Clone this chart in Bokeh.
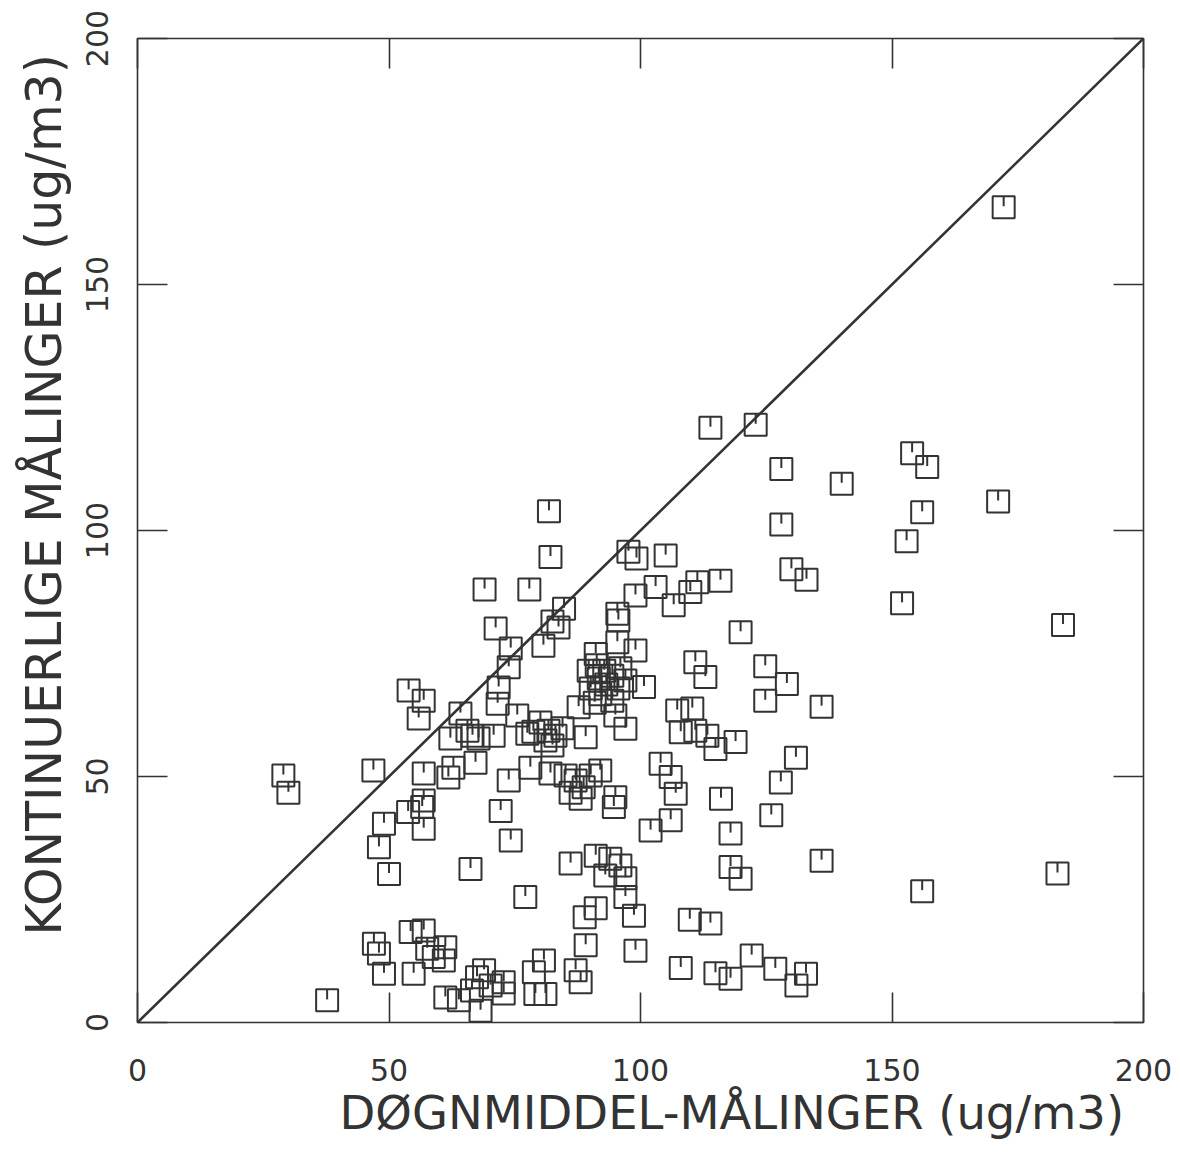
from bokeh.plotting import figure
from bokeh.models import Range1d, LinearAxis, FixedTicker, Slope, Title
from bokeh.embed import file_html
from bokeh.resources import INLINE

# Døgnmiddel-målinger (x) vs kontinuerlige målinger (y), ug/m3
dogn = [172.2, 113.9, 122.9, 154.0, 157.0, 128.0, 140.0, 171.1, 81.8, 156.0,
        128.0, 152.9, 97.6, 99.2, 82.1, 105.0, 130.0, 133.0, 111.3, 115.9,
        109.9, 103.0, 99.0, 69.0, 77.9, 152.0, 106.6, 84.8, 95.4, 95.6,
        184.0, 83.7, 82.5, 71.2, 119.9, 95.4, 80.7, 74.2, 99.0, 91.1,
        73.8, 110.9, 124.8, 112.9, 129.1, 100.7, 71.8, 53.9, 56.9, 124.8,
        136.0, 71.6, 87.7, 55.9, 64.2, 75.5, 95.0, 107.3, 110.3, 97.0,
        108.0, 110.9, 113.3, 114.9, 118.9, 65.6, 66.6, 67.8, 62.2, 70.8,
        77.5, 89.1, 80.1, 81.7, 83.1, 81.1, 84.5, 82.5, 78.7, 89.7,
        91.3, 92.8, 94.4, 91.7, 93.2, 90.1, 95.6, 92.0, 94.4, 96.0,
        90.9, 97.0, 92.0, 85.1, 87.1, 88.7, 86.1, 88.1, 90.1, 104.0,
        106.0, 107.0, 106.0, 102.0, 130.9, 127.9, 116.0, 95.0, 126.0, 117.9,
        117.9, 119.9, 136.0, 156.0, 182.9, 109.8, 113.9, 108.0, 114.9, 117.9,
        122.1, 126.8, 132.9, 131.0, 62.8, 67.2, 56.9, 61.8, 73.8, 78.1,
        82.1, 29.0, 30.0, 46.9, 56.9, 53.8, 72.2, 49.0, 56.9, 56.6,
        48.0, 50.0, 66.2, 74.2, 77.1, 86.1, 94.7, 91.1, 94.0, 96.0,
        93.0, 97.0, 97.0, 98.7, 88.9, 91.1, 89.1, 99.0, 37.7, 47.0,
        48.0, 49.0, 54.3, 56.9, 54.9, 57.6, 58.9, 61.2, 60.9, 61.2,
        63.9, 66.5, 67.5, 68.9, 70.2, 72.8, 68.2, 72.8, 78.8, 80.8,
        79.1, 81.1, 87.1, 88.1]

kont = [165.7, 120.9, 121.5, 115.7, 112.9, 112.5, 109.5, 105.9, 103.9, 103.7,
        101.2, 97.8, 95.7, 94.3, 94.6, 94.9, 92.1, 90.0, 89.5, 89.8,
        87.5, 88.5, 86.8, 88.0, 88.0, 85.2, 84.8, 84.1, 83.1, 81.7,
        80.8, 80.3, 81.5, 80.1, 79.3, 77.3, 76.6, 76.0, 75.6, 74.9,
        72.2, 73.2, 72.4, 70.2, 68.8, 68.2, 68.1, 67.5, 65.4, 65.4,
        64.2, 64.8, 64.1, 61.8, 62.8, 62.4, 62.4, 63.4, 63.8, 59.7,
        59.0, 59.3, 58.3, 55.6, 57.0, 59.3, 58.3, 57.7, 57.7, 58.3,
        58.7, 58.0, 61.0, 59.3, 58.3, 57.3, 59.8, 56.3, 59.1, 71.5,
        72.6, 71.5, 70.5, 69.9, 68.7, 67.9, 67.9, 66.7, 65.4, 72.0,
        65.0, 69.5, 51.2, 50.2, 49.2, 47.8, 46.7, 45.5, 50.2, 52.6,
        49.9, 46.5, 41.1, 39.0, 53.8, 48.8, 45.5, 45.8, 42.1, 38.4,
        31.6, 29.2, 32.9, 26.7, 30.3, 20.9, 20.1, 11.1, 10.0, 8.9,
        13.6, 10.9, 9.9, 7.5, 51.8, 52.8, 50.6, 49.8, 49.2, 51.8,
        50.6, 50.2, 46.7, 51.2, 45.1, 42.8, 43.0, 40.4, 39.4, 43.8,
        35.6, 30.2, 31.2, 37.0, 25.5, 32.3, 43.8, 33.9, 33.3, 31.9,
        29.9, 29.3, 25.5, 21.7, 21.4, 23.2, 15.7, 14.6, 4.5, 16.0,
        14.0, 9.9, 18.4, 18.7, 9.9, 15.0, 13.3, 15.3, 12.6, 5.1,
        4.5, 6.5, 9.2, 10.6, 7.5, 8.2, 2.4, 5.9, 10.2, 12.6,
        5.8, 5.8, 10.6, 8.2]

tick_values = [0, 50, 100, 150, 200]
x_label = "DØGNMIDDEL-MÅLINGER (ug/m3)"
y_label = "KONTINUERLIGE MÅLINGER (ug/m3)"

INK = "#333333"
FONT = "DejaVu Sans"

p = figure(width=1180, height=1156, output_backend="svg", toolbar_location=None,
           x_range=Range1d(0, 200), y_range=Range1d(0, 200),
           min_border_left=137, min_border_right=37, min_border_top=38,
           min_border_bottom=134, background_fill_color="white",
           border_fill_color="white")
p.grid.visible = False
p.outline_line_color = INK
p.outline_line_width = 1.6

ticker = FixedTicker(ticks=tick_values)

for ax in (p.xaxis[0], p.yaxis[0]):
    ax.ticker = ticker
    ax.axis_line_color = None
    ax.major_tick_in = 30
    ax.major_tick_out = 0
    ax.major_tick_line_color = INK
    ax.major_tick_line_width = 1.6
    ax.minor_tick_line_color = None
    ax.major_label_text_font = FONT
    ax.major_label_text_color = INK
    ax.major_label_text_font_size = "30px"

p.xaxis[0].major_label_standoff = 36
p.yaxis[0].major_label_orientation = "vertical"
p.yaxis[0].major_label_standoff = 30

for side in ("above", "right"):
    ax = LinearAxis(ticker=ticker, axis_line_color=None, major_tick_in=30,
                    major_tick_out=0, major_tick_line_color=INK,
                    major_tick_line_width=1.6, minor_tick_line_color=None,
                    major_label_text_color=None,
                    major_label_text_font_size="10px", major_label_standoff=0)
    p.add_layout(ax, side)

# Axis titles, offset along the axes like in the reference
p.add_layout(Title(text=x_label, align="left", offset=202, standoff=0,
                   text_font=FONT, text_font_size="46.5px",
                   text_font_style="normal", text_color=INK), "below")
p.add_layout(Title(text=y_label, align="left", offset=87, standoff=19,
                   text_font=FONT, text_font_size="49px",
                   text_font_style="normal", text_color=INK), "left")

p.add_layout(Slope(gradient=1, y_intercept=0, line_color=INK, line_width=2.6))

# Square plot markers with the little mark hanging from the top edge
p.scatter(dogn, kont, marker="square", size=22, fill_color=None,
          line_color=INK, line_width=2)
p.segment(x0=dogn, y0=[v + 2.2 for v in kont], x1=dogn,
          y1=[v + 0.2 for v in kont], line_color=INK, line_width=2)

open("out.html", "w").write(file_html(p, INLINE))
